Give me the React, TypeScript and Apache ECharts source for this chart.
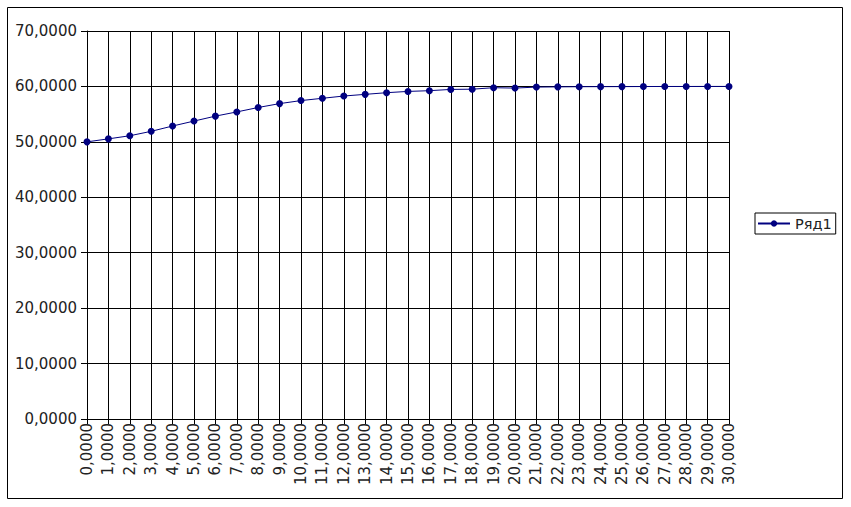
import React, { useEffect, useRef } from "react";
import * as echarts from "echarts";

const xCategories = [0, 1, 2, 3, 4, 5, 6, 7, 8, 9, 10, 11, 12, 13, 14, 15, 16, 17, 18, 19, 20, 21, 22, 23, 24, 25, 26, 27, 28, 29, 30];
const seriesName = "Ряд1";
const seriesValues = [
  50.0, 50.54, 51.1, 51.9, 52.86, 53.75, 54.64, 55.4, 56.2, 56.9, 57.45,
  57.86, 58.27, 58.57, 58.87, 59.1, 59.23, 59.46, 59.5, 59.77, 59.7,
  59.88, 59.92, 59.95, 59.96, 59.97, 59.98, 59.99, 59.99, 60.0, 60.0,
];
const yMin = 0;
const yMax = 70;
const yInterval = 10;

const fmt = (v: number | string) => `${v},0000`;

export default function App() {
  const ref = useRef<HTMLDivElement>(null);
  useEffect(() => {
    if (!ref.current) return;
    const chart = echarts.init(ref.current, null, { renderer: "svg" });
    const font = "DejaVu Sans";
    chart.setOption({
      animation: false,
      backgroundColor: "#ffffff",
      textStyle: { fontFamily: font },
      grid: { left: 87, right: 122, top: 31, bottom: 88, containLabel: false },
      graphic: [
        {
          type: "rect",
          shape: { x: 7.5, y: 7.5, width: 835, height: 491 },
          style: { fill: "none", stroke: "#000", lineWidth: 1 },
          silent: true,
        },
      ],
      legend: {
        show: true,
        left: 755,
        top: 213,
        orient: "vertical",
        borderColor: "#000",
        borderWidth: 1,
        borderRadius: 0,
        padding: [3, 4, 3, 2],
        itemWidth: 32,
        itemHeight: 8,
        itemGap: 4,
        textStyle: { fontFamily: font, fontSize: 14.5, color: "#222" },
        data: [seriesName],
      },
      xAxis: {
        type: "category",
        boundaryGap: false,
        data: xCategories.map((v) => fmt(v)),
        axisLine: { show: true, lineStyle: { color: "#000", width: 1 } },
        axisTick: { show: true, length: 5, inside: false, lineStyle: { color: "#000" } },
        axisLabel: {
          rotate: 90,
          interval: 0,
          margin: 4,
          fontFamily: font,
          fontSize: 15,
          color: "#222",
        },
        splitLine: { show: true, lineStyle: { color: "#000", width: 1 } },
      },
      yAxis: {
        type: "value",
        min: yMin,
        max: yMax,
        interval: yInterval,
        axisLine: { show: true, lineStyle: { color: "#000", width: 1 } },
        axisTick: { show: true, length: 6, lineStyle: { color: "#000" } },
        axisLabel: {
          formatter: (v: number) => fmt(v),
          margin: 10,
          fontFamily: font,
          fontSize: 15,
          color: "#222",
        },
        splitLine: { show: true, lineStyle: { color: "#000", width: 1 } },
      },
      series: [
        {
          name: seriesName,
          type: "line",
          data: seriesValues,
          symbol: "circle",
          symbolSize: 7,
          showSymbol: true,
          lineStyle: { color: "#000080", width: 1 },
          itemStyle: { color: "#000080" },
          emphasis: { disabled: true },
        },
      ],
    });
    return () => chart.dispose();
  }, []);
  return (
    <div
      ref={ref}
      style={{ position: "fixed", left: 0, top: 0, width: 851, height: 507 }}
    />
  );
}
